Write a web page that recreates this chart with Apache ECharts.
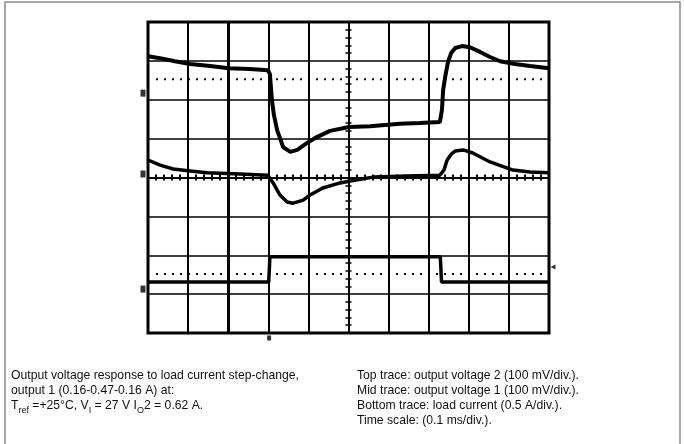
<!DOCTYPE html>
<html>
<head>
<meta charset="utf-8">
<script src="https://cdn.jsdelivr.net/npm/echarts@6/dist/echarts.min.js"></script>
<style>
html,body{margin:0;padding:0;background:#fff;}
#c{width:684px;height:444px;}
</style>
</head>
<body>
<div id="c"></div>
<script>
// time axis in ms (0.1 ms/div), vertical axis in screen divisions
const topTrace = [
  [-0.500,3.12],[-0.470,3.07],[-0.433,2.99],[-0.395,2.92],[-0.345,2.87],[-0.298,2.81],
  [-0.246,2.79],[-0.201,2.76],[-0.196,2.66],[-0.191,1.99],[-0.186,1.61],[-0.178,1.22],
  [-0.171,1.02],[-0.163,0.78],[-0.145,0.66],[-0.128,0.71],[-0.103,0.89],[-0.079,1.04],
  [-0.046,1.20],[0.001,1.30],[0.054,1.32],[0.128,1.38],[0.178,1.40],[0.228,1.43],
  [0.233,1.74],[0.236,2.25],[0.241,2.58],[0.248,2.97],[0.256,3.20],[0.266,3.33],
  [0.283,3.38],[0.303,3.35],[0.328,3.23],[0.353,3.10],[0.378,2.99],[0.415,2.92],
  [0.453,2.87],[0.500,2.81]
];
const midTrace = [
  [-0.500,0.45],[-0.470,0.32],[-0.437,0.22],[-0.395,0.17],[-0.353,0.12],[-0.271,0.09],
  [-0.201,0.06],[-0.188,-0.14],[-0.171,-0.45],[-0.153,-0.63],[-0.138,-0.66],[-0.113,-0.58],
  [-0.096,-0.45],[-0.064,-0.27],[-0.021,-0.14],[0.004,-0.09],[0.061,0.01],[0.146,0.04],
  [0.228,0.06],[0.238,0.19],[0.246,0.45],[0.256,0.60],[0.266,0.68],[0.286,0.71],
  [0.310,0.63],[0.353,0.40],[0.410,0.19],[0.453,0.14],[0.500,0.12]
];
const bottomTrace = [
  [-0.500,-2.69],[-0.199,-2.69],[-0.196,-2.04],[0.229,-2.04],[0.232,-2.69],[0.500,-2.69]
];
const refTop = [[-0.48,2.53],[0.49,2.53]];
const refBottom = [[-0.48,-2.48],[0.49,-2.48]];
const groundLevels = [[-0.5,2.17],[-0.5,0.09],[-0.5,-2.87]];
const rightMarker = [[0.5,-2.30]];
const triggerMarker = [[-0.198,-4]];
const captionLeft = [
  'Output voltage response to load current step-change,',
  'output 1 (0.16-0.47-0.16 A) at:',
  'T{s|ref} =+25°C, V{s|I} = 27 V I{s|O}2 = 0.62 A.'
];
const captionRight = [
  'Top trace: output voltage 2 (100 mV/div.).',
  'Mid trace: output voltage 1 (100 mV/div.).',
  'Bottom trace: load current (0.5 A/div.).',
  'Time scale: (0.1 ms/div.).'
];

const chart = echarts.init(document.getElementById('c'), null, {renderer:'canvas'});
const FONT = '12.2px "Liberation Sans", Arial, sans-serif';
const rich = {s:{fontSize:9, fontFamily:'Liberation Sans', fill:'#111', verticalAlign:'top', padding:[6,0,0,0], lineHeight:9}};
const graphics = [{
  type:'rect', shape:{x:5, y:2, width:675, height:460}, style:{fill:'none', stroke:'#8a8a8a', lineWidth:1.5}, silent:true
}];
captionLeft.forEach((t,i)=>graphics.push({type:'text', x:11, y:370+i*15, style:{text:t, font:FONT, fill:'#111', rich:rich, verticalAlign:'top'}}));
captionRight.forEach((t,i)=>graphics.push({type:'text', x:357, y:370+i*15, style:{text:t, font:FONT, fill:'#111', verticalAlign:'top'}}));

const axisCommonX = {type:'value', min:-0.5, max:0.5, interval:0.1, axisLabel:{show:false}};
const axisCommonY = {type:'value', min:-4, max:4, interval:1, axisLabel:{show:false}};

const option = {
  animation:false,
  backgroundColor:'#fff',
  grid:{left:148, right:135, top:22, bottom:111, show:true, borderColor:'#000', borderWidth:3, backgroundColor:'transparent', z:5},
  xAxis:[
    Object.assign({}, axisCommonX, {position:'bottom',
      axisLine:{show:true, onZero:true, lineStyle:{color:'#000', width:2}},
      axisTick:{show:false},
      minorTick:{show:true, splitNumber:5, length:3, lineStyle:{color:'#000', width:2}},
      splitLine:{show:true, lineStyle:{color:'#000', width:2}}}),
    Object.assign({}, axisCommonX, {position:'top',
      axisLine:{show:false, onZero:true, onZeroAxisIndex:0},
      axisTick:{show:false},
      minorTick:{show:true, splitNumber:5, length:3, lineStyle:{color:'#000', width:2}},
      splitLine:{show:false}})
  ],
  yAxis:[
    Object.assign({}, axisCommonY, {position:'left',
      axisLine:{show:true, onZero:true, lineStyle:{color:'#000', width:2}},
      axisTick:{show:false},
      minorTick:{show:true, splitNumber:5, length:3, lineStyle:{color:'#000', width:1.5}},
      splitLine:{show:true, lineStyle:{color:'#000', width:1.5}}}),
    Object.assign({}, axisCommonY, {position:'right',
      axisLine:{show:false, onZero:true, onZeroAxisIndex:0},
      axisTick:{show:false},
      minorTick:{show:true, splitNumber:5, length:3, lineStyle:{color:'#000', width:1.5}},
      splitLine:{show:false}})
  ],
  graphic:graphics,
  series:[
    {type:'line', data:topTrace, symbol:'none', lineStyle:{color:'#000', width:4}, z:10,
      markLine:{silent:true, symbol:'none', label:{show:false}, lineStyle:{color:'#000', width:3, type:'solid'}, data:[{xAxis:-0.3}]}},
    {type:'line', data:midTrace, symbol:'none', lineStyle:{color:'#000', width:3.5}, z:10},
    {type:'line', data:bottomTrace, symbol:'none', lineStyle:{color:'#000', width:3.5}, z:10},
    {type:'line', data:refTop, symbol:'none', lineStyle:{color:'#000', width:2, type:[2,6]}, z:9},
    {type:'line', data:refBottom, symbol:'none', lineStyle:{color:'#000', width:2, type:[2,6]}, z:9},
    {type:'scatter', data:groundLevels, symbol:'rect', symbolSize:[5,7], symbolOffset:[-5,0], itemStyle:{color:'#000'}, z:11},
    {type:'scatter', data:rightMarker, symbol:'triangle', symbolRotate:90, symbolSize:[5,5], symbolOffset:[4,0], itemStyle:{color:'#000'}, z:11},
    {type:'scatter', data:triggerMarker, symbol:'rect', symbolSize:[4,5], symbolOffset:[0,5], itemStyle:{color:'#000'}, z:11}
  ]
};
chart.setOption(option);
</script>
</body>
</html>
